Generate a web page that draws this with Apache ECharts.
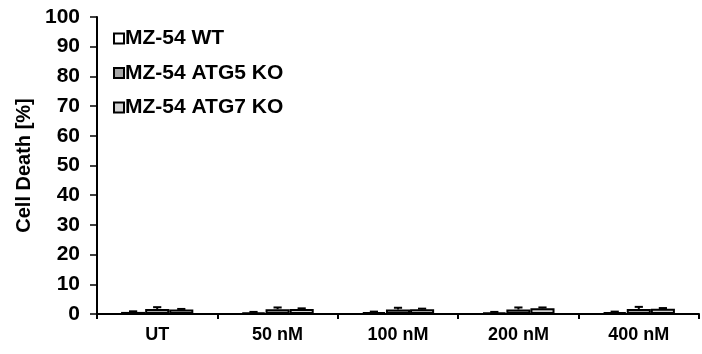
<!DOCTYPE html>
<html>
<head>
<meta charset="utf-8">
<script src="https://cdn.jsdelivr.net/npm/echarts@6/dist/echarts.min.js"></script>
<style>
  html, body { margin: 0; padding: 0; background: #fff; }
  #chart { width: 702px; height: 354px; }
</style>
</head>
<body>
<div id="chart"></div>
<script>
const categories = ['UT', '50 nM', '100 nM', '200 nM', '400 nM'];
const seriesNames = ['MZ-54 WT', 'MZ-54 ATG5 KO', 'MZ-54 ATG7 KO'];
const wtValues = [0.7, 0.5, 0.6, 0.5, 0.6];
const atg5Values = [1.7, 1.6, 1.5, 1.5, 1.7];
const atg7Values = [1.5, 1.7, 1.6, 1.9, 1.8];
const wtErrors = [0.2, 0.2, 0.2, 0.2, 0.2];
const atg5Errors = [0.6, 0.6, 0.6, 0.7, 0.7];
const atg7Errors = [0.2, 0.2, 0.2, 0.3, 0.2];
const yTicks = [0, 10, 20, 30, 40, 50, 60, 70, 80, 90, 100];

const fills = ['#ffffff', '#a6a6a6', '#d4d4d4'];
const values = [wtValues, atg5Values, atg7Values];
const errors = [wtErrors, atg5Errors, atg7Errors];
const font = 'Liberation Sans, Arial, sans-serif';

const chart = echarts.init(document.getElementById('chart'), null, { renderer: 'canvas' });

// error bar for series k, drawn at the bar's offset inside the category
function errorSeries(k) {
  return {
    type: 'custom',
    name: seriesNames[k] + ' err',
    z: 5,
    silent: true,
    data: values[k].map((v, i) => [i, v, v + errors[k][i]]),
    renderItem: (params, api) => {
      const catW = api.size([1, 0])[0];
      const barW = catW * 0.2;
      const base = api.coord([api.value(0), api.value(1)]);
      const top = api.coord([api.value(0), api.value(2)]);
      const x = base[0] + (k - 1) * barW;
      const half = barW * 0.17;
      const style = { stroke: '#000', lineWidth: 2 };
      return {
        type: 'group',
        children: [
          { type: 'line', shape: { x1: x, y1: base[1], x2: x, y2: top[1] }, style },
          { type: 'line', shape: { x1: x - half, y1: top[1], x2: x + half, y2: top[1] }, style }
        ]
      };
    }
  };
}

const option = {
  backgroundColor: '#fff',
  animation: false,
  grid: { left: 97, right: 3, top: 17, bottom: 40 },
  legend: {
    orient: 'vertical',
    left: 108,
    top: 23,
    itemGap: 13.5,
    itemWidth: 10,
    itemHeight: 10,
    icon: 'rect',
    data: seriesNames,
    textStyle: { fontFamily: font, fontWeight: 'bold', fontSize: 21, color: '#000', padding: [0, 0, 0, -4] }
  },
  xAxis: {
    type: 'category',
    data: categories,
    axisLine: { lineStyle: { color: '#000', width: 2 } },
    axisTick: { show: true, length: 5, lineStyle: { color: '#000', width: 2 } },
    axisLabel: { color: '#000', fontFamily: font, fontWeight: 'bold', fontSize: 18, margin: 12 }
  },
  yAxis: {
    type: 'value',
    min: 0,
    max: 100,
    interval: 10,
    name: 'Cell Death [%]',
    nameLocation: 'middle',
    nameGap: 57,
    nameTextStyle: { color: '#000', fontFamily: font, fontWeight: 'bold', fontSize: 20 },
    axisLine: { show: true, lineStyle: { color: '#000', width: 2 } },
    axisTick: { show: true, length: 7, lineStyle: { color: '#000', width: 1.5 } },
    axisLabel: {
      color: '#000', fontFamily: font, fontWeight: 'bold', fontSize: 21, margin: 17,
      formatter: (v) => (yTicks.includes(v) ? String(v) : '')
    },
    splitLine: { show: false }
  },
  series: [
    ...seriesNames.map((name, k) => ({
      name,
      type: 'bar',
      data: values[k],
      barGap: '0%',
      barCategoryGap: '40%',
      itemStyle: { color: fills[k], borderColor: '#000', borderWidth: 2 }
    })),
    errorSeries(0),
    errorSeries(1),
    errorSeries(2)
  ]
};

chart.setOption(option);
</script>
</body>
</html>
